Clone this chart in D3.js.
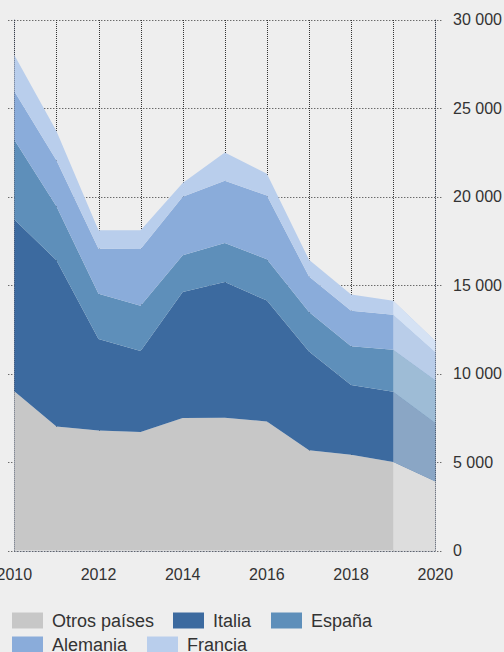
<!DOCTYPE html>
<html>
<head>
<meta charset="utf-8">
<script src="https://cdn.jsdelivr.net/npm/d3@7"></script>
<style>
  html, body { margin: 0; padding: 0; background: #eeeeee; }
  svg { display: block; }
  text { font-family: "Liberation Sans", Arial, sans-serif; fill: #333; }
</style>
</head>
<body>
<svg id="chart" width="504" height="652"></svg>
<script>
// Years and stacked series (from bottom to top)
const years = [2010, 2011, 2012, 2013, 2014, 2015, 2016, 2017, 2018, 2019, 2020];
const otros    = [9000, 7000, 6780, 6700, 7480, 7500, 7290, 5670, 5410, 5000, 3900];
const italia   = [9700, 9400, 5170, 4570, 7120, 7670, 6830, 5580, 3940, 3970, 3310];
const espana   = [4500, 3050, 2550, 2560, 2080, 2200, 2340, 2220, 2190, 2370, 2410];
const alemania = [2750, 2600, 2550, 3200, 3300, 3520, 3600, 2010, 2010, 1980, 1580];
const francia  = [2050, 1650, 1050, 1070,  780, 1590, 1220,  950,  910,  790,  630];

const seriesNames = ["Otros países", "Italia", "España", "Alemania", "Francia"];
const seriesValues = [otros, italia, espana, alemania, francia];
const seriesColors = ["#c7c7c7", "#3c6a9f", "#5e8fba", "#8aacda", "#b9ceec"];
const yTicks = [0, 5000, 10000, 15000, 20000, 25000, 30000];
const xTicks = [2010, 2012, 2014, 2016, 2018, 2020];
const projectionStart = 2019;

const svg = d3.select("#chart");

const x = d3.scaleLinear().domain([2010, 2020]).range([14.3, 435.3]);
const y = d3.scaleLinear().domain([0, 30000]).range([550.5, 19.5]);

const rows = years.map((yr, i) => {
  const r = { year: yr };
  seriesNames.forEach((n, k) => { r[n] = seriesValues[k][i]; });
  return r;
});
const stacked = d3.stack().keys(seriesNames)(rows);

const area = d3.area()
  .x(d => x(d.data.year))
  .y0(d => y(d[0]))
  .y1(d => y(d[1]));

const fmt = d3.formatLocale({ decimal: ",", thousands: " ", grouping: [3], currency: ["", "€"] }).format(",d");

// Grid: horizontal dotted lines with short tick extensions
const grid = svg.append("g");
grid.selectAll("line.h").data(yTicks).join("line")
  .attr("x1", x.range()[0] - 6).attr("x2", x.range()[1] + 8)
  .attr("y1", d => Math.round(y(d)) + 0.5).attr("y2", d => Math.round(y(d)) + 0.5)
  .attr("stroke", "#333").attr("stroke-dasharray", "1,2").attr("stroke-width", 1);
grid.selectAll("line.v").data(years).join("line")
  .attr("x1", d => Math.round(x(d)) + 0.5).attr("x2", d => Math.round(x(d)) + 0.5)
  .attr("y1", Math.round(y(30000))).attr("y2", y(0))
  .attr("stroke", "#333").attr("stroke-dasharray", "1,1").attr("stroke-width", 1);

// Stacked areas
const layers = svg.append("g");
layers.selectAll("path").data(stacked).join("path")
  .attr("d", area)
  .attr("fill", (d, i) => seriesColors[i]);

// Projected years drawn in lighter tones
svg.append("clipPath").attr("id", "proj")
  .append("rect")
  .attr("x", x(projectionStart)).attr("y", 0)
  .attr("width", x(2020) - x(projectionStart) + 1).attr("height", 652);
svg.append("g").attr("clip-path", "url(#proj)")
  .selectAll("path").data(stacked).join("path")
  .attr("d", area)
  .attr("fill", (d, i) => d3.interpolateRgb(seriesColors[i], "#ffffff")(0.4));

// Plot frame edges over the areas
const frame = svg.append("g").attr("stroke", "#4a5a78").attr("stroke-opacity", 0.55)
  .attr("stroke-dasharray", "1,1").attr("fill", "none");
[2010, 2020].forEach(yr => {
  frame.append("line")
    .attr("x1", Math.round(x(yr)) + 0.5).attr("x2", Math.round(x(yr)) + 0.5)
    .attr("y1", y(30000)).attr("y2", y(0));
});
frame.append("line")
  .attr("x1", x(2010)).attr("x2", x(2020))
  .attr("y1", Math.round(y(0)) + 0.5).attr("y2", Math.round(y(0)) + 0.5);

// Y axis labels (right)
svg.append("g").selectAll("text").data(yTicks).join("text")
  .attr("x", 453).attr("y", d => y(d)).attr("dy", "0.35em")
  .attr("font-size", 16)
  .text(d => fmt(d));

// X axis labels
svg.append("g").selectAll("text").data(xTicks).join("text")
  .attr("x", d => x(d)).attr("y", 580)
  .attr("text-anchor", "middle").attr("font-size", 16)
  .text(d => d);

// Legend
const legendPos = [
  { sx: 12, ty: 612.5 }, { sx: 173, ty: 612.5 }, { sx: 271, ty: 612.5 },
  { sx: 12, ty: 636.5 }, { sx: 147, ty: 636.5 }
];
const legend = svg.append("g");
seriesNames.forEach((n, i) => {
  const p = legendPos[i];
  legend.append("rect").attr("x", p.sx).attr("y", p.ty).attr("width", 31).attr("height", 16)
    .attr("fill", seriesColors[i]);
  legend.append("text").attr("x", p.sx + 40).attr("y", p.ty + 14.5)
    .attr("font-size", 18).text(n);
});
</script>
</body>
</html>
